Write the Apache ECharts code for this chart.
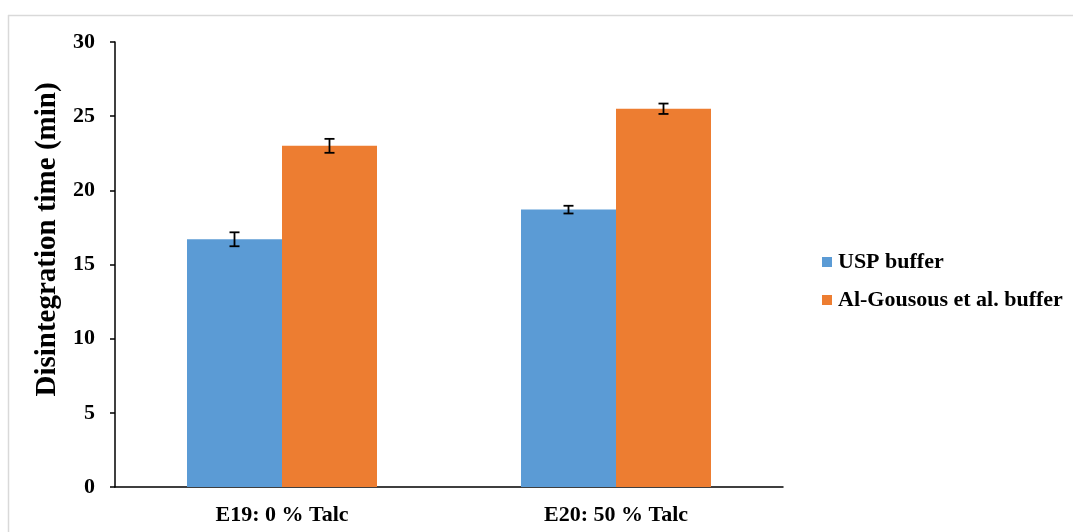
<!DOCTYPE html>
<html>
<head>
<meta charset="utf-8">
<script src="https://cdn.jsdelivr.net/npm/echarts@6/dist/echarts.min.js"></script>
<style>
html,body{margin:0;padding:0;background:#fff;}
#chart{width:1073px;height:532px;}
</style>
</head>
<body>
<div id="chart"></div>
<script>
var categories = ['E19: 0 % Talc', 'E20: 50 % Talc'];
var seriesNames = ['USP buffer', 'Al-Gousous et al. buffer'];
var uspValues = [16.7, 18.7];
var uspErrors = [0.47, 0.26];
var agValues = [23.0, 25.5];
var agErrors = [0.47, 0.35];
var yTicks = [0, 5, 10, 15, 20, 25, 30];

var FONT = '"Liberation Serif", "Times New Roman", serif';
var chart = echarts.init(document.getElementById('chart'), null, {renderer: 'canvas'});

function errSeries(values, errors, side) {
  var data = values.map(function (v, i) { return [i, v - errors[i], v + errors[i]]; });
  return {
    type: 'custom',
    z: 10,
    silent: true,
    data: data,
    renderItem: function (params, api) {
      var ci = api.value(0);
      var lo = api.coord([ci, api.value(1)]);
      var hi = api.coord([ci, api.value(2)]);
      var barW = 95;
      var x = lo[0] + (side === 0 ? -barW / 2 : barW / 2);
      var cap = 5;
      var style = {stroke: '#000', lineWidth: 1.8};
      return {
        type: 'group',
        children: [
          {type: 'line', shape: {x1: x, y1: lo[1], x2: x, y2: hi[1]}, style: style},
          {type: 'line', shape: {x1: x - cap, y1: lo[1], x2: x + cap, y2: lo[1]}, style: style},
          {type: 'line', shape: {x1: x - cap, y1: hi[1], x2: x + cap, y2: hi[1]}, style: style}
        ]
      };
    }
  };
}

var option = {
  backgroundColor: '#fff',
  animation: false,
  graphic: [
    {type: 'line', shape: {x1: 8, y1: 15.5, x2: 1073, y2: 15.5}, style: {stroke: '#d9d9d9', lineWidth: 1.5}},
    {type: 'line', shape: {x1: 8.5, y1: 15, x2: 8.5, y2: 532}, style: {stroke: '#d9d9d9', lineWidth: 1.5}}
  ],
  grid: {left: 115, top: 42, width: 668, height: 445, containLabel: false},
  legend: {
    orient: 'vertical',
    left: 817,
    top: 246,
    itemWidth: 10,
    itemHeight: 10,
    itemGap: 16,
    icon: 'rect',
    data: seriesNames,
    textStyle: {fontFamily: FONT, fontWeight: 'bold', fontSize: 22, color: '#000', padding: [0, 0, 0, 1]}
  },
  xAxis: {
    type: 'category',
    data: categories,
    axisLine: {show: true, lineStyle: {color: '#000', width: 1.5}},
    axisTick: {show: false},
    axisLabel: {fontFamily: FONT, fontWeight: 'bold', fontSize: 22, color: '#000', margin: 17}
  },
  yAxis: {
    type: 'value',
    min: 0,
    max: 30,
    interval: 5,
    name: 'Disintegration time (min)',
    nameLocation: 'middle',
    nameGap: 50,
    nameTextStyle: {fontFamily: FONT, fontWeight: 'bold', fontSize: 29, color: '#000', padding: [0, 0, 0, 50]},
    axisLine: {show: true, lineStyle: {color: '#000', width: 1.5}},
    axisTick: {show: true, length: 5, lineStyle: {color: '#000', width: 1.5}},
    splitLine: {show: false},
    axisLabel: {
      fontFamily: FONT, fontWeight: 'bold', fontSize: 22, color: '#000', margin: 20,
      formatter: function (v) { return yTicks.indexOf(v) >= 0 ? String(v) : ''; }
    }
  },
  series: [
    {name: seriesNames[0], type: 'bar', data: uspValues, barWidth: 95, barGap: '0%', itemStyle: {color: '#5b9bd5'}},
    {name: seriesNames[1], type: 'bar', data: agValues, barWidth: 95, barGap: '0%', itemStyle: {color: '#ed7d31'}},
    errSeries(uspValues, uspErrors, 0),
    errSeries(agValues, agErrors, 1)
  ]
};
chart.setOption(option);
</script>
</body>
</html>
